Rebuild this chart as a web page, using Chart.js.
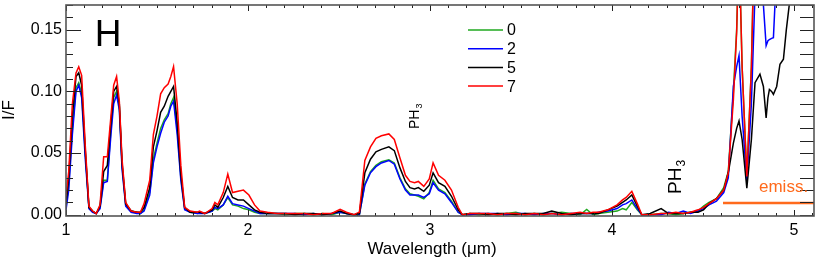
<!DOCTYPE html>
<html>
<head>
<meta charset="utf-8">
<script src="https://cdn.jsdelivr.net/npm/chart.js@4/dist/chart.umd.min.js"></script>
<style>
html,body{margin:0;padding:0;background:#fff;}
#wrap{width:830px;height:260px;position:relative;}
</style>
</head>
<body>
<div id="wrap"><canvas id="c" width="830" height="260"></canvas></div>
<script>
// ---- data ----
const wavelength = [
1.000,1.015,1.035,1.055,1.070,1.086,1.106,1.126,1.146,1.166,1.187,1.207,1.227,1.247,1.262,1.278,1.293,1.308,1.328,1.358,
1.389,1.409,1.429,1.460,1.480,1.500,1.520,1.540,1.561,1.576,1.591,1.611,1.631,1.652,1.682,1.722,1.733,1.763,1.803,1.818,
1.834,1.864,1.889,1.915,1.945,1.975,2.005,2.036,2.066,2.107,2.157,2.208,2.258,2.309,2.359,2.410,2.460,2.506,2.541,2.582,
2.612,2.642,2.673,2.703,2.733,2.774,2.804,2.835,2.865,2.890,2.915,2.936,2.966,2.996,3.017,3.047,3.082,3.118,3.155,3.178,
3.219,3.270,3.320,3.371,3.421,3.472,3.522,3.573,3.623,3.669,3.724,3.775,3.825,3.861,3.896,3.926,3.977,4.028,4.058,4.078,
4.109,4.139,4.164,4.210,4.270,4.311,4.351,4.392,4.432,4.473,4.503,4.533,4.574,4.614,4.639,4.667,4.685,4.698,4.715,4.741,
4.766,4.786,4.813,4.832,4.847,4.857,4.865,4.877,4.887,4.905,4.923,4.942,4.958,4.978,5.040,5.110];

const series0 = [ // green
.006,.025,.070,.103,.107,.098,.050,.006,.003,.001,.006,.028,.028,.070,.095,.100,.088,.040,.008,.003,
.002,.001,.004,.018,.045,.058,.070,.077,.082,.090,.095,.070,.030,.005,.002,.001,.002,.001,.003,.005,
.004,.008,.014,.008,.007,.005,.004,.002,.001,.001,.001,.000,.001,.001,.000,.001,.000,.002,.001,.000,
.000,.025,.035,.040,.043,.0445,.042,.030,.021,.017,.016,.015,.013,.018,.028,.021,.018,.011,.002,.000,
.001,.000,.001,.000,.001,.002,.000,.001,.000,.001,.002,.001,.000,.0043,.000,.001,.002,.003,.005,.004,
.010,.004,.000,.000,.001,.001,.000,.001,.002,.003,.007,.010,.013,.022,.035,.100,.150,.220,.120,.031,
.120,.250,.300,.300,.300,.300,.300,.300,.300,.300,.300,.300,.300,.300,.300,.300];

const series2 = [ // blue
.004,.020,.065,.100,.105,.095,.045,.005,.002,.001,.005,.026,.027,.065,.090,.097,.085,.037,.007,.002,
.001,.001,.003,.016,.042,.055,.066,.075,.080,.088,.092,.065,.028,.004,.002,.001,.001,.001,.003,.006,
.005,.008,.015,.009,.008,.007,.005,.003,.001,.001,.001,.001,.001,.000,.001,.000,.001,.002,.001,.000,
.000,.024,.034,.039,.042,.044,.041,.029,.020,.016,.016,.016,.014,.017,.026,.020,.017,.010,.002,.000,
.000,.001,.001,.001,.000,.001,.001,.000,.001,.001,.000,.001,.001,.001,.001,.002,.003,.005,.008,.009,
.012,.005,.000,.000,.000,.002,.001,.003,.001,.003,.005,.008,.011,.018,.030,.104,.120,.129,.080,.027,
.090,.180,.250,.170,.137,.141,.142,.143,.1435,.200,.250,.250,.250,.250,.300,.300];

const series5 = [ // black
.009,.030,.080,.112,.115,.105,.052,.006,.003,.001,.007,.035,.040,.075,.100,.104,.090,.042,.009,.003,
.002,.002,.006,.022,.055,.068,.083,.088,.096,.100,.104,.075,.033,.006,.002,.002,.002,.001,.004,.008,
.006,.014,.023,.014,.012,.012,.008,.004,.002,.001,.001,.001,.000,.001,.001,.000,.001,.003,.001,.000,
.001,.034,.045,.051,.053,.055,.052,.038,.027,.022,.021,.022,.019,.024,.034,.026,.023,.015,.004,.000,
.001,.001,.000,.001,.001,.000,.001,.001,.001,.003,.001,.000,.001,.001,.001,.001,.004,.007,.010,.012,
.016,.007,.000,.001,.005,.001,.001,.001,.002,.002,.004,.009,.013,.020,.034,.058,.070,.076,.061,.0215,
.061,.107,.114,.104,.0785,.095,.1016,.100,.0976,.104,.122,.126,.150,.175,.250,.300];

const series7 = [ // red
.015,.035,.090,.115,.120,.113,.056,.007,.003,.001,.008,.047,.047,.080,.105,.112,.092,.045,.010,.003,
.002,.002,.009,.028,.065,.080,.098,.103,.106,.112,.120,.090,.040,.006,.003,.002,.003,.001,.005,.010,
.008,.018,.033,.018,.019,.020,.016,.008,.003,.002,.001,.001,.001,.001,.000,.001,.001,.0045,.002,.000,
.002,.044,.055,.062,.064,.0655,.061,.046,.032,.027,.026,.027,.023,.029,.042,.032,.028,.020,.006,.000,
.001,.001,.001,.000,.001,.001,.000,.001,.000,.001,.000,.001,.002,.001,.002,.002,.004,.008,.012,.014,
.019,.009,.000,.000,.001,.001,.002,.001,.002,.004,.006,.009,.013,.020,.034,.093,.148,.220,.120,.031,
.120,.250,.300,.300,.300,.300,.300,.300,.300,.300,.300,.300,.300,.300,.300,.300];

const emissX = [4.61, 5.11];
const emissY = [0.0095, 0.0095];

const seriesNames = ['0','2','5','7'];
const seriesColors = ['#1fa81f','#0000ff','#000000','#ff0000'];
const xTickValues = [1,2,3,4,5];
const yTickValues = [0.00,0.05,0.10,0.15];

// ---- chart ----
const FONT = '"Liberation Sans", Arial, Helvetica, sans-serif';
Chart.defaults.font.family = FONT;

const allSeries = [series0, series2, series5, series7];
const datasets = allSeries.map((s,i)=>({
  label: seriesNames[i],
  data: wavelength.map((w,j)=>({x:w,y:s[j]})),
  borderColor: seriesColors[i],
  borderWidth: 1.5,
  pointRadius: 0,
  tension: 0,
  fill: false,
  order: 4-i
}));
datasets.push({
  label:'emiss',
  data: emissX.map((x,j)=>({x:x,y:emissY[j]})),
  borderColor:'#ff6a1c',
  borderWidth:2.5,
  pointRadius:0,
  order:0
});

function drawText(ctx, txt, x, y, font, color, align, baseline, rot){
  ctx.save();
  ctx.translate(x,y);
  if(rot) ctx.rotate(rot);
  ctx.font = font; ctx.fillStyle = color;
  ctx.textAlign = align; ctx.textBaseline = baseline;
  ctx.fillText(txt,0,0);
  ctx.restore();
}

function drawPH3(ctx, x, yBottom, size){
  ctx.save();
  ctx.translate(x, yBottom);
  ctx.rotate(-Math.PI/2);
  ctx.fillStyle = '#000';
  ctx.textBaseline = 'alphabetic';
  ctx.textAlign = 'left';
  ctx.font = size + 'px ' + FONT;
  ctx.fillText('PH', 0, 0);
  const w = ctx.measureText('PH').width;
  ctx.font = Math.round(size*0.62) + 'px ' + FONT;
  ctx.fillText('3', w + 1, size*0.2);
  ctx.restore();
}

const framePlugin = {
  id:'frame',
  afterDatasetsDraw(chart){
    const ctx = chart.ctx, a = chart.chartArea;
    const xs = chart.scales.x, ys = chart.scales.y;
    ctx.save();
    ctx.strokeStyle = '#222'; ctx.lineWidth = 1;
    ctx.beginPath();
    for(let i=0;i<=17;i++){
      const v = i/100; const py = Math.round(ys.getPixelForValue(v))+0.5;
      const major = (i%5===0);
      const l = major?15:7;
      ctx.moveTo(a.left, py); ctx.lineTo(a.left+l, py);
      ctx.moveTo(a.right, py); ctx.lineTo(a.right-14, py);
    }
    for(let i=10;i<=51;i++){
      const v = i/10; const px = Math.round(xs.getPixelForValue(v))+0.5;
      if(px > a.right) continue;
      const major = (i%10===0);
      const l = major?6:3;
      ctx.moveTo(px, a.bottom); ctx.lineTo(px, a.bottom-l);
      ctx.moveTo(px, a.top); ctx.lineTo(px, a.top+l);
    }
    ctx.stroke();
    ctx.strokeStyle = '#555'; ctx.lineWidth = 1.6;
    ctx.strokeRect(a.left, a.top, a.right-a.left, a.bottom-a.top);
    ctx.restore();

    drawText(ctx,'H',108,36,'37px '+FONT,'#000','center','middle');
    const ly0 = 30, dy = 18.7;
    seriesNames.forEach((n,i)=>{
      const y = ly0 + i*dy;
      ctx.save();
      ctx.strokeStyle = seriesColors[i]; ctx.lineWidth = 1.5;
      ctx.beginPath(); ctx.moveTo(468,y); ctx.lineTo(503,y); ctx.stroke();
      ctx.restore();
      drawText(ctx,n,507,y+1,'16px '+FONT,'#000','left','middle');
    });
    drawPH3(ctx, 419, 129, 14);
    drawPH3(ctx, 681, 194, 19);
    drawText(ctx,'emiss.',759,192,'17px '+FONT,'#ff6a1c','left','alphabetic');
    drawText(ctx,'Wavelength (\u03bcm)',432,249,'17px '+FONT,'#000','center','middle');
    drawText(ctx,'I/F',9,110,'17px '+FONT,'#000','center','middle',-Math.PI/2);
  }
};

new Chart(document.getElementById('c'), {
  type:'line',
  data:{datasets},
  options:{
    responsive:false,
    animation:false,
    layout:{padding:{left:0,right:16,top:5,bottom:0}},
    plugins:{legend:{display:false},tooltip:{enabled:false}},
    scales:{
      x:{
        type:'linear', min:1, max:5.11,
        grid:{display:false, drawTicks:false},
        border:{display:false},
        afterBuildTicks:(s)=>{ s.ticks = xTickValues.map(v=>({value:v})); },
        afterFit:(s)=>{ s.height = 44; s.paddingLeft = 0; s.paddingRight = 0; },
        ticks:{color:'#000', font:{size:16}, padding:5, maxRotation:0, autoSkip:false,
          callback:(v)=>String(v)}
      },
      y:{
        type:'linear', min:-0.001, max:0.17,
        grid:{display:false, drawTicks:false},
        border:{display:false},
        afterBuildTicks:(s)=>{ s.ticks = yTickValues.map(v=>({value:v})); },
        afterFit:(s)=>{ s.width = 66; s.paddingTop = 0; s.paddingBottom = 0; },
        ticks:{color:'#000', font:{size:16}, padding:4, autoSkip:false,
          callback:(v)=>Number(v).toFixed(2)}
      }
    }
  },
  plugins:[framePlugin]
});
</script>
</body>
</html>
